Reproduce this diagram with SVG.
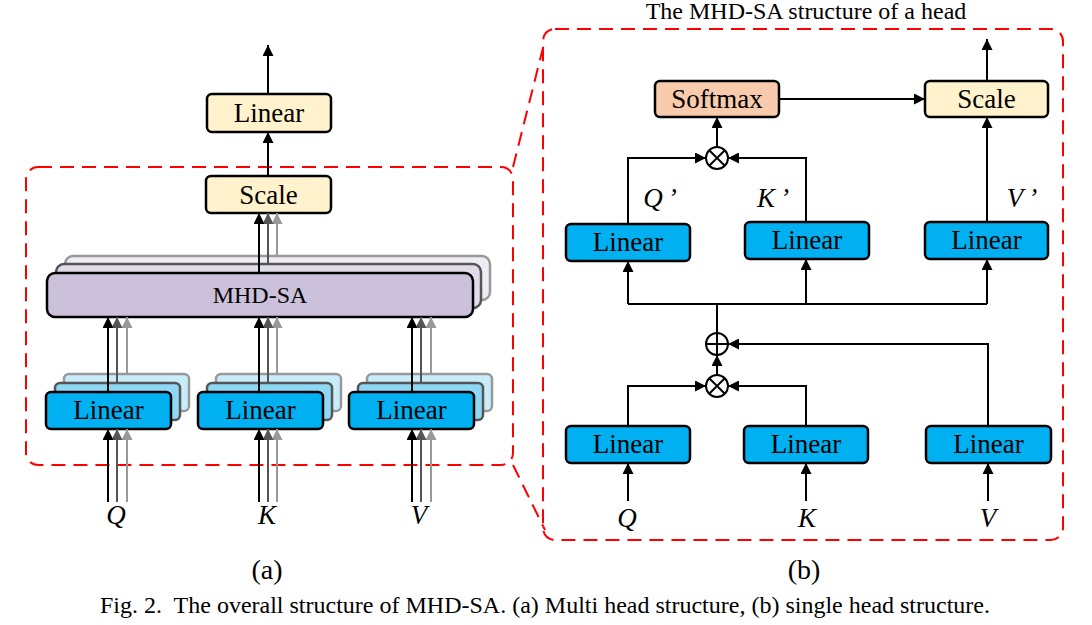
<svg xmlns="http://www.w3.org/2000/svg" width="1092" height="625" viewBox="0 0 1092 625">
<style>
.t{font-family:"Liberation Serif","Times New Roman",Times,serif;fill:#000;text-anchor:middle}
.n{font-size:27px}
.i{font-style:italic;font-size:27px}
.box{stroke:#000;stroke-width:2.5}
.blue{fill:#00B0F0}
.beige{fill:#FFF2CC}
.peach{fill:#F8CBAD}
.lav{fill:#CCC1DA}
.ln{fill:none;stroke:#000;stroke-width:2}
.g1{fill:none;stroke:#555;stroke-width:2}
.g2{fill:none;stroke:#999;stroke-width:2}
.dash{fill:none;stroke:#FF0000;stroke-width:2;stroke-dasharray:14 8}
.op{fill:#fff;stroke:#000;stroke-width:2}
</style>
<defs>
<marker id="ab" viewBox="0 0 10 10" refX="10" refY="5" markerWidth="11" markerHeight="11" markerUnits="userSpaceOnUse" orient="auto"><path d="M0,0 L10,5 L0,10 z" fill="#000"/></marker>
<marker id="ag1" viewBox="0 0 10 10" refX="10" refY="5" markerWidth="11" markerHeight="11" markerUnits="userSpaceOnUse" orient="auto"><path d="M0,0 L10,5 L0,10 z" fill="#555"/></marker>
<marker id="ag2" viewBox="0 0 10 10" refX="10" refY="5" markerWidth="11" markerHeight="11" markerUnits="userSpaceOnUse" orient="auto"><path d="M0,0 L10,5 L0,10 z" fill="#999"/></marker>
</defs>

<g id="frames">
<rect class="dash" x="26" y="167" width="487" height="298" rx="12"/>
<rect class="dash" x="543" y="29" width="520" height="511" rx="12"/>
<line class="dash" x1="513" y1="167" x2="545" y2="40"/>
<line class="dash" x1="513" y1="465" x2="545" y2="530"/>
</g>

<g id="a-linear-top"><rect class="box beige" x="207" y="94" width="124" height="38" rx="5"/><text class="t n" x="269" y="122">Linear</text></g>
<g id="a-scale"><rect class="box beige" x="206" y="176" width="125" height="37" rx="5"/><text class="t n" x="268.5" y="204">Scale</text></g>

<g id="a-mhdsa">
<rect x="65" y="256" width="425" height="44" rx="8" fill="#EFECF4" stroke="#999" stroke-width="2.5"/>
<rect x="56" y="264" width="425" height="44" rx="8" fill="#E2DCEA" stroke="#555" stroke-width="2.5"/>
<rect class="box lav" x="47" y="273" width="426" height="44" rx="8"/>
<text class="t" x="260" y="303" font-size="24">MHD-SA</text>
</g>

<g id="a-linear-q">
<rect x="64" y="374" width="125" height="37" rx="5" fill="#C9ECFA" stroke="#999" stroke-width="2.5"/>
<rect x="55" y="383" width="125" height="37" rx="5" fill="#8FD8F5" stroke="#555" stroke-width="2.5"/>
<rect class="box blue" x="46" y="392" width="125" height="37" rx="5"/>
<text class="t n" x="108.5" y="419">Linear</text>
</g>
<g id="a-linear-k">
<rect x="216" y="374" width="125" height="37" rx="5" fill="#C9ECFA" stroke="#999" stroke-width="2.5"/>
<rect x="207" y="383" width="125" height="37" rx="5" fill="#8FD8F5" stroke="#555" stroke-width="2.5"/>
<rect class="box blue" x="198" y="392" width="125" height="37" rx="5"/>
<text class="t n" x="260.5" y="419">Linear</text>
</g>
<g id="a-linear-v">
<rect x="367" y="374" width="125" height="37" rx="5" fill="#C9ECFA" stroke="#999" stroke-width="2.5"/>
<rect x="358" y="383" width="125" height="37" rx="5" fill="#8FD8F5" stroke="#555" stroke-width="2.5"/>
<rect class="box blue" x="349" y="392" width="125" height="37" rx="5"/>
<text class="t n" x="411.5" y="419">Linear</text>
</g>

<g id="a-labels">
<text class="t i" x="116" y="524">Q</text>
<text class="t i" x="267" y="524">K</text>
<text class="t i" x="419" y="524">V</text>
</g>

<g id="a-connectors">
<line class="ln" x1="268" y1="94" x2="268" y2="45" marker-end="url(#ab)"/>
<line class="ln" x1="268" y1="176" x2="268" y2="132" marker-end="url(#ab)"/>
<line class="g2" x1="277" y1="256" x2="277" y2="213" marker-end="url(#ag2)"/>
<line class="g1" x1="268" y1="264" x2="268" y2="213" marker-end="url(#ag1)"/>
<line class="ln" x1="259" y1="273" x2="259" y2="213" marker-end="url(#ab)"/>
<line class="g2" x1="127" y1="374" x2="127" y2="317" marker-end="url(#ag2)"/>
<line class="g1" x1="117" y1="383" x2="117" y2="317" marker-end="url(#ag1)"/>
<line class="ln" x1="108" y1="392" x2="108" y2="317" marker-end="url(#ab)"/>
<line class="g2" x1="127" y1="502" x2="127" y2="429" marker-end="url(#ag2)"/>
<line class="g1" x1="117" y1="502" x2="117" y2="429" marker-end="url(#ag1)"/>
<line class="ln" x1="108" y1="502" x2="108" y2="429" marker-end="url(#ab)"/>
<line class="g2" x1="277" y1="374" x2="277" y2="317" marker-end="url(#ag2)"/>
<line class="g1" x1="268" y1="383" x2="268" y2="317" marker-end="url(#ag1)"/>
<line class="ln" x1="259" y1="392" x2="259" y2="317" marker-end="url(#ab)"/>
<line class="g2" x1="277" y1="502" x2="277" y2="429" marker-end="url(#ag2)"/>
<line class="g1" x1="268" y1="502" x2="268" y2="429" marker-end="url(#ag1)"/>
<line class="ln" x1="259" y1="502" x2="259" y2="429" marker-end="url(#ab)"/>
<line class="g2" x1="431" y1="374" x2="431" y2="317" marker-end="url(#ag2)"/>
<line class="g1" x1="421" y1="383" x2="421" y2="317" marker-end="url(#ag1)"/>
<line class="ln" x1="412" y1="392" x2="412" y2="317" marker-end="url(#ab)"/>
<line class="g2" x1="431" y1="502" x2="431" y2="429" marker-end="url(#ag2)"/>
<line class="g1" x1="421" y1="502" x2="421" y2="429" marker-end="url(#ag1)"/>
<line class="ln" x1="412" y1="502" x2="412" y2="429" marker-end="url(#ab)"/>
</g>

<text class="t" x="806" y="19" font-size="24">The MHD-SA structure of a head</text>

<g id="b-connectors">
<line class="ln" x1="987" y1="81" x2="987" y2="39" marker-end="url(#ab)"/>
<line class="ln" x1="779" y1="99" x2="925" y2="99" marker-end="url(#ab)"/>
<line class="ln" x1="717" y1="147" x2="717" y2="117" marker-end="url(#ab)"/>
<path class="ln" d="M628,224 V158 H706" marker-end="url(#ab)"/>
<path class="ln" d="M806,222 V158 H728" marker-end="url(#ab)"/>
<line class="ln" x1="987" y1="222" x2="987" y2="117" marker-end="url(#ab)"/>
<path class="ln" d="M717,333 V304 H987"/>
<path class="ln" d="M628,304 H717"/>
<line class="ln" x1="628" y1="304" x2="628" y2="261" marker-end="url(#ab)"/>
<line class="ln" x1="806" y1="304" x2="806" y2="259" marker-end="url(#ab)"/>
<line class="ln" x1="987" y1="304" x2="987" y2="259" marker-end="url(#ab)"/>
<line class="ln" x1="717" y1="375" x2="717" y2="355" marker-end="url(#ab)"/>
<path class="ln" d="M988,426 V344 H728" marker-end="url(#ab)"/>
<path class="ln" d="M628,426 V386 H706" marker-end="url(#ab)"/>
<path class="ln" d="M806,426 V386 H728" marker-end="url(#ab)"/>
<line class="ln" x1="628" y1="501" x2="628" y2="463" marker-end="url(#ab)"/>
<line class="ln" x1="806" y1="501" x2="806" y2="463" marker-end="url(#ab)"/>
<line class="ln" x1="988" y1="501" x2="988" y2="463" marker-end="url(#ab)"/>
</g>

<g id="b-softmax"><rect class="box peach" x="655" y="81" width="124" height="36" rx="5"/><text class="t n" x="717" y="108">Softmax</text></g>
<g id="b-scale"><rect class="box beige" x="925" y="81" width="123" height="36" rx="5"/><text class="t n" x="986.5" y="108">Scale</text></g>

<g id="b-mul-top"><circle class="op" cx="717" cy="158" r="11"/><path class="ln" d="M709.2,150.2 L724.8,165.8 M724.8,150.2 L709.2,165.8"/></g>
<g id="b-add"><circle class="op" cx="717" cy="344" r="11"/><path class="ln" d="M706,344 H728 M717,333 V355"/></g>
<g id="b-mul-bot"><circle class="op" cx="717" cy="386" r="11"/><path class="ln" d="M709.2,378.2 L724.8,393.8 M724.8,378.2 L709.2,393.8"/></g>

<g id="b-linear-q1"><rect class="box blue" x="566" y="224" width="124" height="37" rx="5"/><text class="t n" x="628" y="251">Linear</text></g>
<g id="b-linear-k1"><rect class="box blue" x="745" y="222" width="124" height="37" rx="5"/><text class="t n" x="807" y="249">Linear</text></g>
<g id="b-linear-v1"><rect class="box blue" x="925" y="222" width="123" height="37" rx="5"/><text class="t n" x="986.5" y="249">Linear</text></g>

<g id="b-linear-q2"><rect class="box blue" x="566" y="426" width="124" height="37" rx="5"/><text class="t n" x="628" y="453">Linear</text></g>
<g id="b-linear-k2"><rect class="box blue" x="744" y="426" width="124" height="37" rx="5"/><text class="t n" x="806" y="453">Linear</text></g>
<g id="b-linear-v2"><rect class="box blue" x="926" y="426" width="125" height="37" rx="5"/><text class="t n" x="988.5" y="453">Linear</text></g>

<g id="b-labels">
<text class="t i" x="660" y="207">Q<tspan dx="5">’</tspan></text>
<text class="t i" x="773" y="207">K<tspan dx="5">’</tspan></text>
<text class="t i" x="1022" y="207">V<tspan dx="5">’</tspan></text>
<text class="t i" x="627" y="527">Q</text>
<text class="t i" x="807" y="527">K</text>
<text class="t i" x="988" y="527">V</text>
</g>

<text class="t" x="267" y="579" font-size="28">(a)</text>
<text class="t" x="804" y="579" font-size="28">(b)</text>
<text class="t" x="545" y="613" font-size="24" xml:space="preserve">Fig. 2.  The overall structure of MHD-SA. (a) Multi head structure, (b) single head structure.</text>
</svg>
